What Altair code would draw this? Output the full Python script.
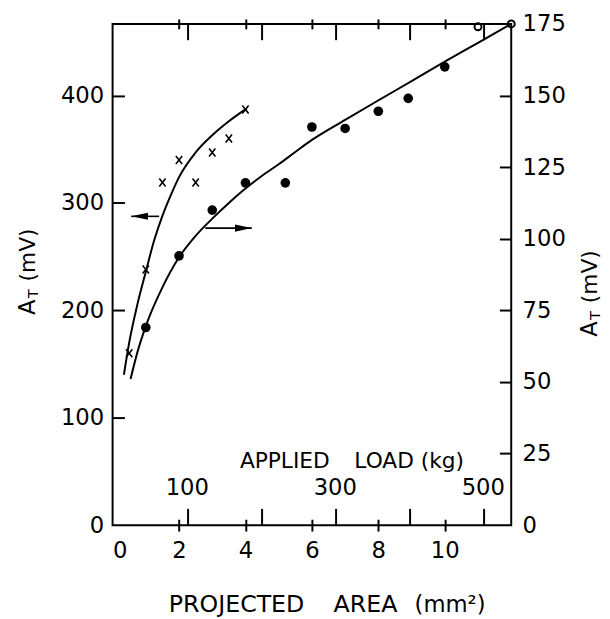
import altair as alt
import pandas as pd

FONT = "DejaVu Sans"

# ---- data ----
# filled circles (right axis, A_T mV vs projected area mm^2)
dot_area = [1.0, 2.0, 3.0, 4.0, 5.2, 6.0, 7.0, 8.0, 8.9, 10.0]
dot_at = [69, 94, 110, 119.5, 119.5, 139, 138.5, 144.5, 149, 160]
# open circles (right axis)
open_area = [11.0, 12.0]
open_at = [174, 175]
# crosses (left axis)
cross_area = [0.5, 1.0, 1.5, 2.0, 2.5, 3.0, 3.5, 4.0]
cross_at = [160, 238, 319, 340, 319, 347, 360, 387]
# fitted curve through crosses (left axis)
curveL_area = [0.34, 0.5, 0.75, 1.0, 1.25, 1.5, 1.75, 2.0, 2.5, 3.0, 3.5, 4.04]
curveL_at = [140, 170, 206, 236, 265, 288, 307, 324, 347, 363, 376, 388]
# fitted curve through circles (right axis)
curveR_area = [0.54, 0.75, 1.0, 1.5, 2.0, 2.5, 3.0, 3.5, 4.0, 4.5, 5.0, 5.5, 6.0, 7.0, 8.0, 9.0, 10.0, 11.0, 11.95]
curveR_at = [51, 60.5, 69.5, 83, 93.5, 101, 107, 112.5, 117.5, 122, 126, 130.3, 134.5, 141.5, 148.3, 155, 161.8, 168.4, 174.7]
# arrows
arrowL_area = [0.56, 1.40]
arrowL_at = 287.5
arrowR_area = [2.79, 4.19]
arrowR_at = 103.7
# axes
left_ticks = [0, 100, 200, 300, 400]
right_ticks = [0, 25, 50, 75, 100, 125, 150, 175]
area_ticks = [0, 2, 4, 6, 8, 10]
load_ticks = [100, 200, 300, 400, 500]
load_labels = [100, 300, 500]

W, H = 404, 508
X = alt.Scale(domain=[0, 12], nice=False, zero=False)
XL = alt.Scale(domain=[-1, 537.7], nice=False, zero=False)
YL = alt.Scale(domain=[0, 466.67], nice=False, zero=False)
YR = alt.Scale(domain=[0, 175], nice=False, zero=False)

# label-only axes
lab = dict(ticks=False, tickSize=0, domain=False, grid=False, labelFont=FONT, offset=0,
           labelFontSize=23, labelColor="black", title=None)
ax_left = alt.Axis(orient="left", values=left_ticks, labelPadding=9, **lab)
ax_right = alt.Axis(orient="right", values=right_ticks, labelPadding=11, **lab)
ax_bottom = alt.Axis(orient="bottom", values=area_ticks, labelPadding=15, **lab)


# tick-only axes, pulled inside the frame with a negative offset
def tick_axis(orient, values, size, offset):
    return alt.Axis(orient=orient, values=values, labels=False, domain=False, grid=False,
                    ticks=True, tickSize=size, tickWidth=2, tickColor="black",
                    offset=offset, title=None)


def df(**kw):
    return pd.DataFrame(kw)


def host(vals, enc):
    return alt.Chart(df(v=vals)).mark_point(opacity=0).encode(**enc)


layers = [
    host(left_ticks, dict(y=alt.Y("v:Q", scale=YL, axis=ax_left))),
    host(left_ticks[1:], dict(y=alt.Y("v:Q", scale=YL, axis=tick_axis("left", left_ticks[1:], 12, -12)))),
    host(right_ticks, dict(y=alt.Y("v:Q", scale=YR, axis=ax_right))),
    host(right_ticks[1:-1], dict(y=alt.Y("v:Q", scale=YR, axis=tick_axis("right", right_ticks[1:-1], 12, -12)))),
    host(area_ticks, dict(x=alt.X("v:Q", scale=X, axis=ax_bottom))),
    host(area_ticks[1:], dict(x=alt.X("v:Q", scale=X, axis=tick_axis("bottom", area_ticks[1:], 12, -6)))),
    host(area_ticks[1:], dict(x=alt.X("v:Q", scale=X, axis=tick_axis("top", area_ticks[1:], 10, -5)))),
    host(load_ticks, dict(x=alt.X("v:Q", scale=XL, axis=tick_axis("bottom", load_ticks, 17, -17)))),
    host(load_ticks, dict(x=alt.X("v:Q", scale=XL, axis=tick_axis("top", load_ticks, 16, -16)))),
]

layers.append(alt.Chart(df(v=load_labels)).mark_text(
    font=FONT, fontSize=23, color="black", align="center", baseline="alphabetic").encode(
    x=alt.X("v:Q", scale=XL, axis=None), y=alt.value(477), text="v:Q"))

# curves
layers.append(alt.Chart(df(a=curveL_area, v=curveL_at)).mark_line(
    color="black", strokeWidth=2, interpolate="monotone").encode(
    x=alt.X("a:Q", scale=X, axis=None), y=alt.Y("v:Q", scale=YL, axis=None), order="a:Q"))
layers.append(alt.Chart(df(a=curveR_area, v=curveR_at)).mark_line(
    color="black", strokeWidth=2, interpolate="monotone").encode(
    x=alt.X("a:Q", scale=X, axis=None), y=alt.Y("v:Q", scale=YR, axis=None), order="a:Q"))

# points
xshape = "M-0.8,-1L0.8,1M0.8,-1L-0.8,1"
layers.append(alt.Chart(df(a=cross_area, v=cross_at)).mark_point(
    shape=xshape, filled=False, color="black", strokeWidth=1.6, size=64, opacity=1).encode(
    x=alt.X("a:Q", scale=X, axis=None), y=alt.Y("v:Q", scale=YL, axis=None)))
layers.append(alt.Chart(df(a=dot_area, v=dot_at)).mark_circle(
    color="black", size=95, opacity=1).encode(
    x=alt.X("a:Q", scale=X, axis=None), y=alt.Y("v:Q", scale=YR, axis=None)))
layers.append(alt.Chart(df(a=open_area, v=open_at)).mark_point(
    shape="circle", filled=False, color="black", strokeWidth=2, size=50, opacity=1).encode(
    x=alt.X("a:Q", scale=X, axis=None), y=alt.Y("v:Q", scale=YR, axis=None)))

# arrows
layers.append(alt.Chart(df(a1=[arrowL_area[0]], a2=[arrowL_area[1]], v=[arrowL_at])).mark_rule(
    color="black", strokeWidth=1.6).encode(
    x=alt.X("a1:Q", scale=X, axis=None), x2="a2:Q", y=alt.Y("v:Q", scale=YL, axis=None)))
layers.append(alt.Chart(df(a=[arrowL_area[0]], v=[arrowL_at])).mark_point(
    shape="M0,0L2,-0.42L2,0.42Z", filled=True, color="black", size=289, opacity=1, strokeWidth=0).encode(
    x=alt.X("a:Q", scale=X, axis=None), y=alt.Y("v:Q", scale=YL, axis=None)))
layers.append(alt.Chart(df(a1=[arrowR_area[0]], a2=[arrowR_area[1]], v=[arrowR_at])).mark_rule(
    color="black", strokeWidth=1.6).encode(
    x=alt.X("a1:Q", scale=X, axis=None), x2="a2:Q", y=alt.Y("v:Q", scale=YR, axis=None)))
layers.append(alt.Chart(df(a=[arrowR_area[1]], v=[arrowR_at])).mark_point(
    shape="M0,0L-2,-0.42L-2,0.42Z", filled=True, color="black", size=289, opacity=1, strokeWidth=0).encode(
    x=alt.X("a:Q", scale=X, axis=None), y=alt.Y("v:Q", scale=YR, axis=None)))


# titles as text
def txt(t, x, y, size=23, angle=0, dx=0, dy=0):
    props = dict(font=FONT, fontSize=size, color="black", align="left", baseline="alphabetic",
                 dx=dx, dy=dy)
    if angle:
        props["angle"] = angle
    return alt.Chart(df(t=[t])).mark_text(**props).encode(
        x=alt.value(x), y=alt.value(y), text="t:N")


layers += [
    txt("APPLIED", 129, 450, 22),
    txt("LOAD (kg)", 245, 450, 22),
    txt("PROJECTED", 57, 596, 24),
    txt("AREA", 224, 596, 24),
    txt("(mm\u00b2)", 306, 596, 23),
    # left title
    txt("A", -79, 295, 23, 270),
    txt("T", -79, 295, 15, 270, dx=17, dy=3),
    txt("(mV)", -79, 295, 22, 270, dx=34),
    # right title
    txt("A", 491, 317, 23, 270),
    txt("T", 491, 317, 15, 270, dx=17, dy=3),
    txt("(mV)", 491, 317, 22, 270, dx=34),
]

chart = alt.layer(*layers).resolve_scale(x="independent", y="independent").properties(
    width=W, height=H,
    autosize=alt.AutoSizeParams(type="none"),
    padding={"left": 106, "top": 12, "right": 92, "bottom": 91},
).configure(background="white", view=alt.ViewConfig(stroke="black", strokeWidth=2))

chart.save("out.html", embed_options={"renderer": "svg", "actions": False})
